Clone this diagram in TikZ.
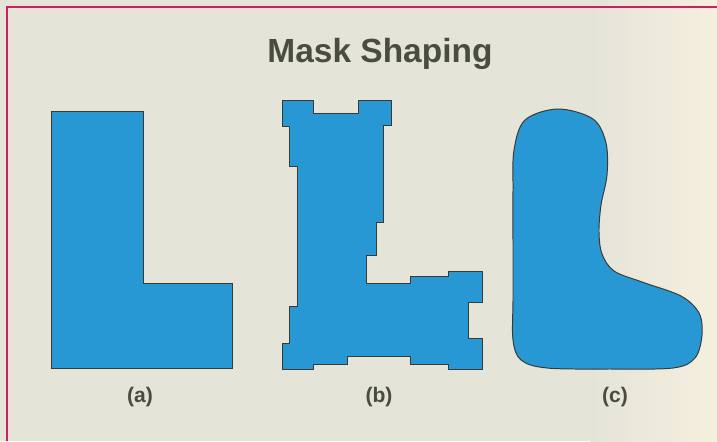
\documentclass[tikz,border=0pt]{standalone}
\usepackage{fontspec}
\setmainfont{Liberation Sans}
\usepackage{xcolor}
\usepackage{tikz}
\definecolor{paper}{RGB}{229,228,217}
\definecolor{paperwarm}{RGB}{245,239,222}
\definecolor{maskblue}{RGB}{40,152,212}
\definecolor{outline}{RGB}{58,58,52}
\definecolor{inkgray}{RGB}{74,76,64}
\definecolor{rule}{RGB}{204,32,96}

\begin{document}
\begin{tikzpicture}[
    x=0.025cm, y=-0.025cm,
    maskshape/.style={fill=maskblue, draw=outline, line width=0.7pt, line join=miter},
    masklabel/.style={anchor=base, font=\fontsize{15}{17}\selectfont\bfseries, text=inkgray},
    titletext/.style={anchor=base, font=\fontsize{23.8}{27}\selectfont\bfseries, text=inkgray},
]
    % page and frame
    \useasboundingbox (0,0) rectangle (717,441);
    \fill[paper] (0,0) rectangle (717,441);
    \shade[left color=paper, right color=paperwarm] (590,0) rectangle (717,441);
    \draw[rule, line width=1.4pt] (7,441) -- (7,7) -- (717,7);

    \node[titletext] (title) at (380,62.3) {Mask Shaping};

    % (a) plain L
    \draw[maskshape] (51,111) -- (143,111) -- (143,283) -- (232,283)
        -- (232,368) -- (51,368) -- cycle;

    % (b) L with serifs
    \draw[maskshape] (282,100) -- (313,100) -- (313,113) -- (358,113)
        -- (358,100) -- (391,100) -- (391,125) -- (383,125) -- (383,222)
        -- (376,222) -- (376,255) -- (366,255) -- (366,283) -- (410,283)
        -- (410,276) -- (448,276) -- (448,271) -- (482,271) -- (482,302)
        -- (468,302) -- (468,338) -- (482,338) -- (482,369) -- (448,369)
        -- (448,364) -- (410,364) -- (410,356) -- (347,356) -- (347,364)
        -- (313,364) -- (313,369) -- (282,369) -- (282,343) -- (289,343)
        -- (289,306) -- (297,306) -- (297,166) -- (289,166) -- (289,126)
        -- (282,126) -- cycle;

    % (c) printed result
    \draw[maskshape] plot[smooth cycle, tension=0.55] coordinates {
        (558,109) (593,119) (606,143) (607,175) (601,205) (599,232)
        (602,254) (614,271) (642,282) (681,296) (699,313) (702,335)
        (695,358) (673,368) (610,369) (547,368) (521,360) (513,340)
        (513,300) (513,250) (513,190) (514,150) (525,120)};

    \node[masklabel] (lbla) at (140,402.5) {(a)};
    \node[masklabel] (lblb) at (379,402.5) {(b)};
    \node[masklabel] (lblc) at (615,402.5) {(c)};
\end{tikzpicture}
\end{document}
